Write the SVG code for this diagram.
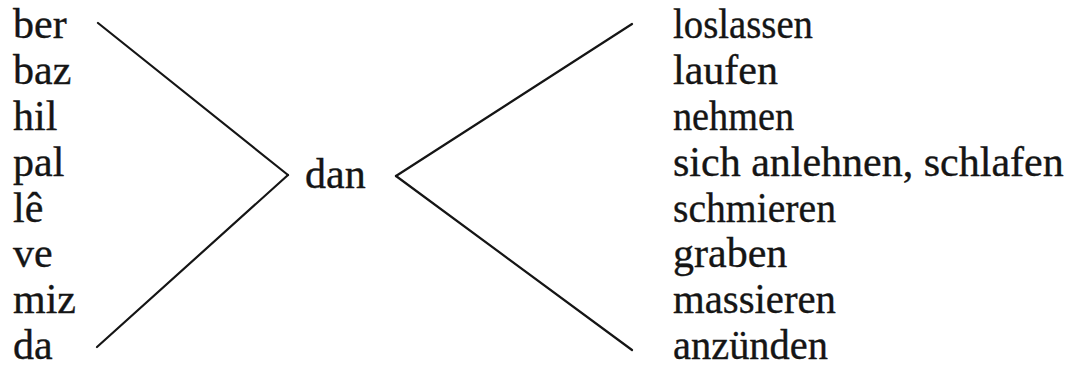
<svg xmlns="http://www.w3.org/2000/svg" width="1074" height="385" viewBox="0 0 1074 385">
<style>
text{font-family:"Liberation Serif","Times New Roman",serif;font-size:42px;fill:#151515;stroke:#151515;stroke-width:0.35}
.c line{stroke:#151515;stroke-width:2.2;stroke-linecap:round}
</style>
<rect width="1074" height="385" fill="#fff"/>
<g id="left">
<text x="13" y="38">ber</text>
<text x="13" y="84">baz</text>
<text x="13" y="130">hil</text>
<text x="13" y="176">pal</text>
<text x="13" y="222">lê</text>
<text x="13" y="267">ve</text>
<text x="13" y="313">miz</text>
<text x="13" y="359">da</text>
</g>
<g id="center">
<text x="305" y="188">dan</text>
</g>
<g id="right">
<text x="673" y="38" textLength="140" lengthAdjust="spacingAndGlyphs">loslassen</text>
<text x="673" y="84">laufen</text>
<text x="673" y="130" textLength="121" lengthAdjust="spacingAndGlyphs">nehmen</text>
<text x="673" y="176">sich anlehnen, schlafen</text>
<text x="673" y="222" textLength="163" lengthAdjust="spacingAndGlyphs">schmieren</text>
<text x="673" y="267">graben</text>
<text x="673" y="313" textLength="163" lengthAdjust="spacingAndGlyphs">massieren</text>
<text x="673" y="359" textLength="155" lengthAdjust="spacingAndGlyphs">anzünden</text>
</g>
<g class="c" id="connectors">
<line x1="98" y1="23" x2="288" y2="175"/>
<line x1="288" y1="175" x2="97" y2="347"/>
<line x1="632" y1="24" x2="396" y2="176"/>
<line x1="396" y1="176" x2="632" y2="350"/>
</g>
</svg>
